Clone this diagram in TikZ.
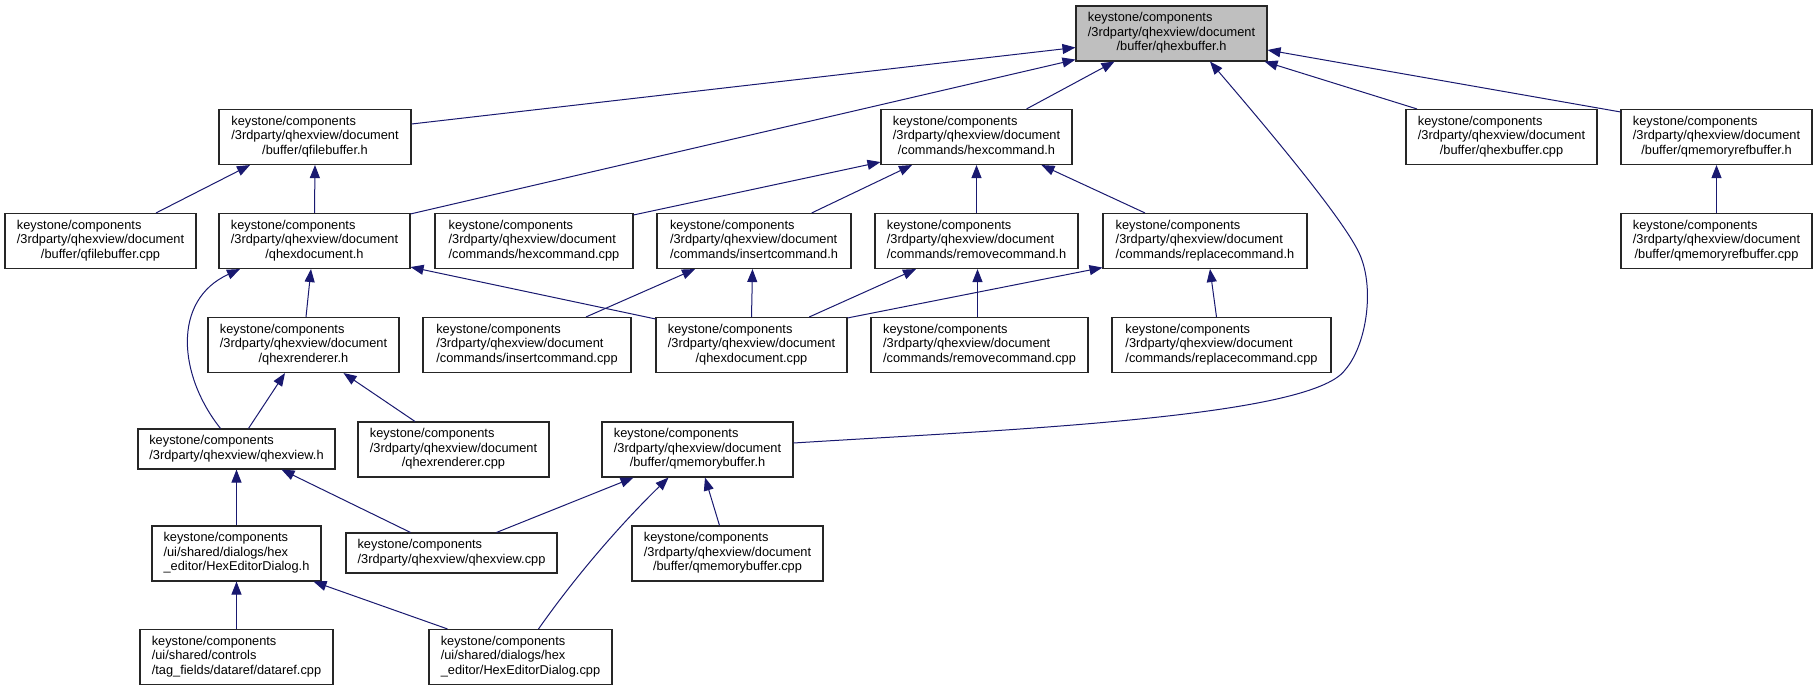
\documentclass[tikz,border=0pt]{standalone}
\usepackage{fontspec}
\setmainfont{Liberation Sans}
\usetikzlibrary{arrows.meta}
\definecolor{edgeblue}{HTML}{191970}
\definecolor{rootgray}{HTML}{BFBFBF}
\newcommand\kspath{keystone/components}
\newcommand\qdpath{/3rdparty/qhexview/document}
\newcommand\flab[3]{\begin{tabular}{@{}l@{}}#1\\#2\\\multicolumn{1}{@{}c@{}}{#3}\end{tabular}}
\newcommand\flabb[2]{\begin{tabular}{@{}l@{}}#1\\\multicolumn{1}{@{}c@{}}{#2}\end{tabular}}
\tikzset{
  filebox/.style={draw=black!85, line width=1.1pt, fill=white, rectangle, inner sep=0pt,
    minimum height=55pt, font=\fontsize{12.8}{14.5}\selectfont},
  shortbox/.style={filebox, minimum height=40pt},
  rootbox/.style={filebox, fill=rootgray},
  dep/.style={draw=edgeblue, line width=1pt, -{Triangle[length=13pt,width=10pt]}}
}
\begin{document}
\begin{tikzpicture}[x=1pt,y=-1pt]
\useasboundingbox[fill=white] (0,0) rectangle (1817,691);
% nodes
\node[rootbox, minimum width=191pt] (A) at (1171.5,33.5) {\flab{\kspath}{\qdpath}{/buffer/qhexbuffer.h}};
\node[filebox, minimum width=192pt] (B) at (315,137) {\flab{\kspath}{\qdpath}{/buffer/qfilebuffer.h}};
\node[filebox, minimum width=191pt] (C) at (976.5,137) {\flab{\kspath}{\qdpath}{/commands/hexcommand.h}};
\node[filebox, minimum width=191pt] (D) at (1501.5,137) {\flab{\kspath}{\qdpath}{/buffer/qhexbuffer.cpp}};
\node[filebox, minimum width=191pt] (E) at (1716.5,137) {\flab{\kspath}{\qdpath}{/buffer/qmemoryrefbuffer.h}};
\node[filebox, minimum width=191pt] (F) at (100.5,241) {\flab{\kspath}{\qdpath}{/buffer/qfilebuffer.cpp}};
\node[filebox, minimum width=191pt] (G) at (314.5,241) {\flab{\kspath}{\qdpath}{/qhexdocument.h}};
\node[filebox, minimum width=198pt] (H) at (534,241) {\flab{\kspath}{\qdpath}{/commands/hexcommand.cpp}};
\node[filebox, minimum width=194pt] (I) at (754,241) {\flab{\kspath}{\qdpath}{/commands/insertcommand.h}};
\node[filebox, minimum width=203pt] (J) at (976.5,241) {\flab{\kspath}{\qdpath}{/commands/removecommand.h}};
\node[filebox, minimum width=204pt] (K) at (1205,241) {\flab{\kspath}{\qdpath}{/commands/replacecommand.h}};
\node[filebox, minimum width=191pt] (L) at (1716.5,241) {\flab{\kspath}{\qdpath}{/buffer/qmemoryrefbuffer.cpp}};
\node[filebox, minimum width=191pt] (M) at (303.5,345) {\flab{\kspath}{\qdpath}{/qhexrenderer.h}};
\node[filebox, minimum width=208pt] (N) at (527,345) {\flab{\kspath}{\qdpath}{/commands/insertcommand.cpp}};
\node[filebox, minimum width=191pt] (O) at (751.5,345) {\flab{\kspath}{\qdpath}{/qhexdocument.cpp}};
\node[filebox, minimum width=217pt] (P) at (979.5,345) {\flab{\kspath}{\qdpath}{/commands/removecommand.cpp}};
\node[filebox, minimum width=219pt] (Q) at (1221.5,345) {\flab{\kspath}{\qdpath}{/commands/replacecommand.cpp}};
\node[shortbox, minimum width=197pt] (R) at (236.5,449) {\flabb{\kspath}{/3rdparty/qhexview/qhexview.h}};
\node[filebox, minimum width=191pt] (S) at (453.5,449.5) {\flab{\kspath}{\qdpath}{/qhexrenderer.cpp}};
\node[filebox, minimum width=191pt] (T) at (697.5,449.5) {\flab{\kspath}{\qdpath}{/buffer/qmemorybuffer.h}};
\node[filebox, minimum width=169pt] (U) at (236.5,553.5) {\flab{\kspath}{/ui/shared/dialogs/hex}{\_editor/HexEditorDialog.h}};
\node[shortbox, minimum width=211pt] (V) at (451.5,553) {\flabb{\kspath}{/3rdparty/qhexview/qhexview.cpp}};
\node[filebox, minimum width=191pt] (W) at (727.5,553.5) {\flab{\kspath}{\qdpath}{/buffer/qmemorybuffer.cpp}};
\node[filebox, minimum width=193pt] (X) at (236.5,657) {\flab{\kspath}{/ui/shared/controls}{/tag\_fields/dataref/dataref.cpp}};
\node[filebox, minimum width=183pt] (Y) at (520.5,657) {\flab{\kspath}{/ui/shared/dialogs/hex}{\_editor/HexEditorDialog.cpp}};
% edges to qhexbuffer.h
\draw[dep] ([yshift=13pt]B.east) -- ([yshift=-14pt]A.west);
\draw[dep] ([yshift=-1pt]G.north east) -- ([yshift=2pt]A.south west);
\draw[dep] ([xshift=50pt]C.north) -- ([xshift=-57pt]A.south);
\draw[dep] ([xshift=-84.5pt]D.north) -- ([xshift=-3pt]A.south east);
\draw[dep] ([yshift=-3pt]E.north west) -- ([yshift=-16.5pt]A.east);
\draw[dep] ([yshift=6.5pt]T.east) .. controls (1000,430) and (1310,418) .. (1345,370)
  .. controls (1366,346) and (1375,290) .. (1360,255)
  .. controls (1345,220) and (1260,120) .. ([xshift=38.5pt]A.south);
% qfilebuffer.h
\draw[dep] ([xshift=55.5pt]F.north) -- ([xshift=-65pt]B.south);
\draw[dep] (G.north) -- (B.south);
% hexcommand.h
\draw[dep] ([yshift=-2pt]H.north east) -- ([yshift=3pt]C.south west);
\draw[dep] ([xshift=57.7pt]I.north) -- ([xshift=-64.5pt]C.south);
\draw[dep] (J.north) -- (C.south);
\draw[dep] ([xshift=-60pt]K.north) -- ([xshift=65pt]C.south);
% qmemoryrefbuffer.h
\draw[dep] (L.north) -- (E.south);
% qhexdocument.h
\draw[dep] ([yshift=-2pt]O.north west) -- ([yshift=2pt]G.south east);
\draw[dep] ([xshift=2.5pt]M.north) -- ([xshift=-3.5pt]G.south);
\draw[dep] ([xshift=-16pt]R.north) .. controls (178,375) and (172,300) .. ([xshift=-74.5pt]G.south);
% insertcommand.h / removecommand.h / replacecommand.h
\draw[dep] ([xshift=59pt]N.north) -- ([xshift=-59pt]I.south);
\draw[dep] (O.north) -- ([xshift=-1.5pt]I.south);
\draw[dep] ([xshift=57.8pt]O.north) -- ([xshift=-60.5pt]J.south);
\draw[dep] ([yshift=-1pt]O.north east) -- ([yshift=1.5pt]K.south west);
\draw[dep] ([xshift=-2pt]P.north) -- ([xshift=1pt]J.south);
\draw[dep] ([xshift=-5pt]Q.north) -- ([xshift=5pt]K.south);
% qhexrenderer.h
\draw[dep] ([xshift=12pt]R.north) -- ([xshift=-18.5pt]M.south);
\draw[dep] ([xshift=-38.5pt]S.north) -- ([xshift=40pt]M.south);
% qhexview.h
\draw[dep] (U.north) -- (R.south);
\draw[dep] ([xshift=-41pt]V.north) -- ([xshift=45pt]R.south);
% qmemorybuffer.h
\draw[dep] ([xshift=45pt]V.north) -- ([xshift=-64pt]T.south);
\draw[dep] ([xshift=18pt]Y.north) .. controls (580,570) and (625,520) .. ([xshift=-29pt]T.south);
\draw[dep] ([xshift=-8pt]W.north) -- ([xshift=7.5pt]T.south);
% HexEditorDialog.h
\draw[dep] (X.north) -- (U.south);
\draw[dep] ([xshift=-73pt]Y.north) -- ([xshift=77pt]U.south);
\end{tikzpicture}
\end{document}
